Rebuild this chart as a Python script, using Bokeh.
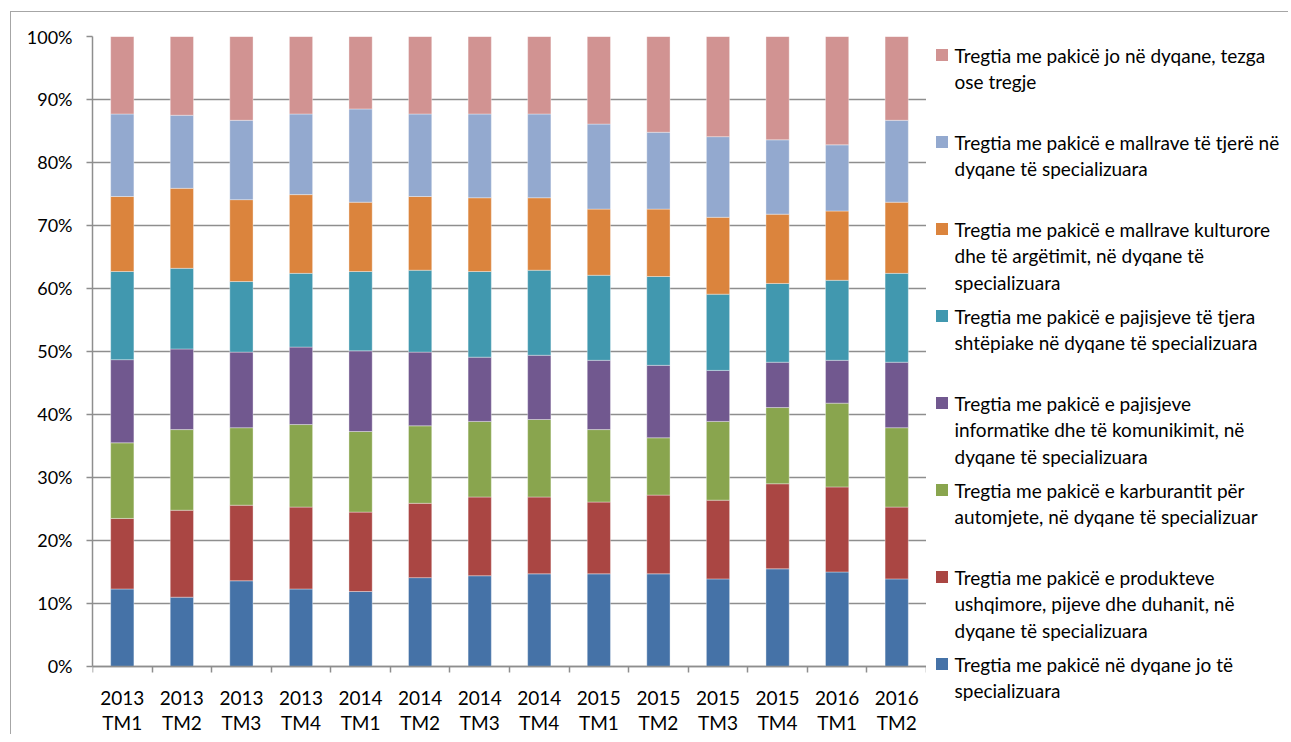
from bokeh.plotting import figure
from bokeh.models import FixedTicker, LinearAxis, Range1d, ColumnDataSource, PrintfTickFormatter
from bokeh.layouts import row
from bokeh.embed import file_html
from bokeh.resources import INLINE
from bokeh.core.properties import value

# ---------------- data ----------------
years = ["2013", "2013", "2013", "2013", "2014", "2014", "2014", "2014",
         "2015", "2015", "2015", "2015", "2016", "2016"]
quarters = ["TM1", "TM2", "TM3", "TM4", "TM1", "TM2", "TM3", "TM4",
            "TM1", "TM2", "TM3", "TM4", "TM1", "TM2"]

jo_specializuara = [12.3, 11.0, 13.6, 12.3, 11.9, 14.1, 14.4, 14.7, 14.7, 14.7, 13.9, 15.5, 15.0, 13.9]
ushqimore = [11.2, 13.8, 12.0, 13.0, 12.6, 11.8, 12.5, 12.2, 11.4, 12.5, 12.5, 13.5, 13.5, 11.4]
karburant = [12.0, 12.8, 12.3, 13.1, 12.8, 12.3, 12.0, 12.3, 11.5, 9.1, 12.5, 12.1, 13.3, 12.6]
informatike = [13.2, 12.8, 12.0, 12.3, 12.8, 11.7, 10.2, 10.2, 11.0, 11.5, 8.1, 7.2, 6.8, 10.4]
shtepiake = [14.0, 12.8, 11.2, 11.7, 12.6, 13.0, 13.6, 13.5, 13.5, 14.1, 12.1, 12.5, 12.7, 14.1]
kulturore = [11.9, 12.7, 13.0, 12.5, 11.0, 11.7, 11.7, 11.5, 10.5, 10.7, 12.2, 11.0, 11.0, 11.3]
te_tjere = [13.1, 11.6, 12.6, 12.8, 14.8, 13.1, 13.3, 13.3, 13.5, 12.2, 12.8, 11.8, 10.5, 13.0]
jo_dyqane = [12.3, 12.5, 13.3, 12.3, 11.5, 12.3, 12.3, 12.3, 13.9, 15.2, 15.9, 16.4, 17.2, 13.3]

# bottom -> top
series_keys = ["jo_specializuara", "ushqimore", "karburant", "informatike",
               "shtepiake", "kulturore", "te_tjere", "jo_dyqane"]
series_values = [jo_specializuara, ushqimore, karburant, informatike,
                 shtepiake, kulturore, te_tjere, jo_dyqane]
series_names = [
    "Tregtia me pakicë në dyqane jo të\nspecializuara",
    "Tregtia me pakicë e produkteve\nushqimore, pijeve dhe duhanit, në\ndyqane të specializuara",
    "Tregtia me pakicë e karburantit për\nautomjete, në dyqane të specializuar",
    "Tregtia me pakicë e pajisjeve\ninformatike dhe të komunikimit, në\ndyqane të specializuara",
    "Tregtia me pakicë e pajisjeve të tjera\nshtëpiake në dyqane të specializuara",
    "Tregtia me pakicë e mallrave kulturore\ndhe të argëtimit, në dyqane të\nspecializuara",
    "Tregtia me pakicë e mallrave të tjerë në\ndyqane të specializuara",
    "Tregtia me pakicë jo në dyqane, tezga\nose tregje",
]
colors = ["#4572A7", "#AA4643", "#89A54E", "#71588F",
          "#4198AF", "#DB843D", "#93A9CF", "#D19392"]

FONT = "Lato"
FS_Y = "18px"
FS_X = "19px"
FS_L = "19px"
GRID = "#8e8e8e"
TXT = "#000000"

n = len(years)
xs = list(range(1, n + 1))
data = {"x": xs}
for k, v in zip(series_keys, series_values):
    data[k] = v
src = ColumnDataSource(data)

# ---------------- main chart ----------------
# frame spans from the 100% line down to the bottom of the chart area;
# category labels are drawn by axes fixed at 0%
p = figure(frame_width=834, frame_height=698,
           x_range=Range1d(0.5, n + 0.5), y_range=Range1d(-10.8, 100),
           x_axis_type=None, output_backend="svg", toolbar_location=None,
           min_border_left=81, min_border_right=0, min_border_top=24, min_border_bottom=0)
p.outline_line_color = None
p.background_fill_color = "white"
p.border_fill_color = "white"

p.vbar_stack(series_keys, x="x", width=0.39, color=colors, source=src,
             line_color="white", line_alpha=0.35, line_width=1)

# y axis
yt = FixedTicker(ticks=list(range(0, 101, 10)))
p.yaxis.ticker = yt
p.yaxis.bounds = (0, 100)
p.yaxis.formatter = PrintfTickFormatter(format="%d%%")
p.yaxis.major_tick_out = 6
p.yaxis.major_tick_in = 0
p.yaxis.minor_tick_line_color = None
p.yaxis.axis_line_color = GRID
p.yaxis.axis_line_width = 1.5
p.yaxis.major_tick_line_color = GRID
p.yaxis.major_tick_line_width = 1.5
p.yaxis.major_label_standoff = 14
p.yaxis.major_label_text_font = FONT
p.yaxis.major_label_text_font_size = FS_Y
p.yaxis.major_label_text_color = TXT

p.ygrid.ticker = yt
p.ygrid.grid_line_color = GRID
p.ygrid.grid_line_width = 1.5

# x axes: years line (with boundary ticks) and quarter line
boundaries = [i + 0.5 for i in range(0, n + 1)]
ax1 = LinearAxis(ticker=FixedTicker(ticks=xs, minor_ticks=boundaries),
                 fixed_location=0,
                 major_label_overrides={i: y for i, y in zip(xs, years)},
                 major_tick_out=0, major_tick_in=0,
                 minor_tick_out=6, minor_tick_in=0,
                 minor_tick_line_color=GRID, minor_tick_line_width=1.5,
                 major_tick_line_color=None,
                 axis_line_color=GRID, axis_line_width=1.5,
                 major_label_standoff=19,
                 major_label_text_font=FONT, major_label_text_font_size=FS_X,
                 major_label_text_color=TXT)
ax2 = LinearAxis(ticker=FixedTicker(ticks=xs),
                 fixed_location=0,
                 major_label_overrides={i: q for i, q in zip(xs, quarters)},
                 major_tick_out=0, major_tick_in=0,
                 major_tick_line_color=None, minor_tick_line_color=None,
                 axis_line_color=None,
                 major_label_standoff=45,
                 major_label_text_font=FONT, major_label_text_font_size=FS_X,
                 major_label_text_color=TXT)
p.add_layout(ax1, "below")
p.add_layout(ax2, "below")

# ---------------- legend panel ----------------
LW = 362
# legend frame is aligned with the main frame (page y 36 .. 734)
leg = figure(width=LW, height=722, x_range=Range1d(0, LW), y_range=Range1d(734, 36),
             x_axis_type=None, y_axis_type=None, output_backend="svg",
             toolbar_location=None, min_border=0)
leg.outline_line_color = None
leg.grid.visible = False

sq_x, sq_y, sq_c = [], [], []
tx, ty, tt = [], [], []
order = list(range(len(series_names)))[::-1]  # top of stack first
for slot, idx in enumerate(order):
    y0 = 55 + 87.0 * slot
    sq_x.append(15.5)
    sq_y.append(y0 - 0.5)
    sq_c.append(colors[idx])
    for j, line in enumerate(series_names[idx].split("\n")):
        tx.append(28)
        ty.append(y0 + 26.3 * j)
        tt.append(line)

leg.scatter(x=sq_x, y=sq_y, marker="square", size=12, color=sq_c, line_color=None)
leg.text(x=tx, y=ty, text=tt, text_font=value(FONT), text_font_size=FS_L,
         text_baseline="middle", text_align="left", text_color=TXT)

layout = row(p, leg, styles={"border-top": "1px solid #a6a6a6",
                             "border-left": "1px solid #a6a6a6",
                             "margin-left": "10px", "margin-top": "11px"})

open("out.html", "w").write(file_html(layout, INLINE))
